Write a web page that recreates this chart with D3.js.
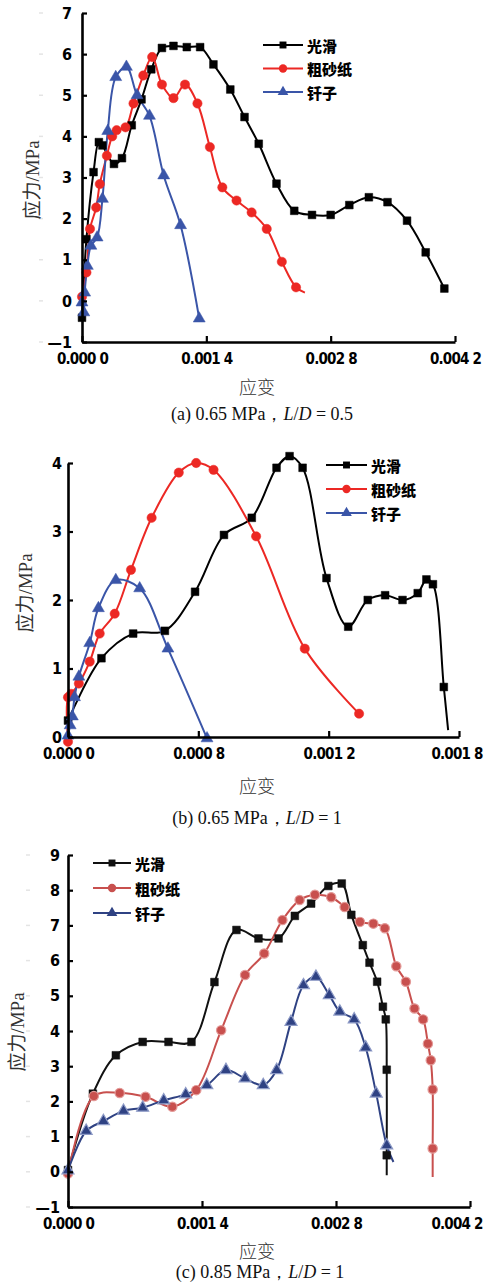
<!DOCTYPE html>
<html><head><meta charset="utf-8">
<script src="https://cdn.jsdelivr.net/npm/d3@7"></script>
<style>
html,body{margin:0;padding:0;background:#fff;}
svg{display:block;}
</style></head>
<body>
<svg id="c" width="485" height="1285"></svg>
<script>
// ---------- DATA ----------
const seriesNames = ["光滑", "粗砂纸", "钎子"];

// (a) 0.65 MPa, L/D = 0.5   [strain, stress MPa]
const aSmooth = [[0,-0.41],[0.00005,1.5],[0.00013,3.13],[0.00019,3.86],[0.00023,3.78],[0.00036,3.33],[0.00045,3.47],[0.00056,4.27],[0.00067,4.9],[0.00078,5.63],[0.0009,6.15],[0.00103,6.2],[0.00118,6.17],[0.00133,6.17],[0.00148,5.75],[0.00167,5.14],[0.00183,4.47],[0.00199,3.82],[0.00219,2.85],[0.00239,2.19],[0.00259,2.09],[0.0028,2.09],[0.00301,2.33],[0.00323,2.52],[0.00344,2.4],[0.00366,1.95],[0.00387,1.18],[0.00408,0.3]];
const aRough = [[0,0.1],[0.00005,0.69],[0.00009,1.75],[0.00016,2.27],[0.0002,2.84],[0.00028,3.53],[0.00034,4.0],[0.00039,4.15],[0.00049,4.22],[0.00058,4.8],[0.00069,5.48],[0.00079,5.93],[0.0009,5.26],[0.00103,4.93],[0.00116,5.26],[0.0013,4.8],[0.00144,3.74],[0.00158,2.76],[0.00174,2.44],[0.00191,2.15],[0.00208,1.75],[0.00225,0.95],[0.00241,0.33],[0.00251,0.2]];
const aPin = [[0,-0.04],[0.00002,-0.28],[0.00003,0.2],[0.00006,0.85],[0.0001,1.34],[0.00017,1.54],[0.00023,2.48],[0.00029,4.13],[0.00038,5.44],[0.0005,5.69],[0.00062,5.0],[0.00076,4.5],[0.00092,3.05],[0.00111,1.84],[0.00132,-0.43]];
const aYTicks = [-1,0,1,2,3,4,5,6,7];
const aYLabels = ["—1","0","1","2","3","4","5","6","7"];
const aXTicks = [0,0.0014,0.0028,0.0042];
const aXLabels = ["0.000 0","0.001 4","0.002 8","0.004 2"];

// (b) 0.65 MPa, L/D = 1
const bSmooth = [[0,0.24],[0.000154,1.15],[0.0003,1.51],[0.000446,1.55],[0.000585,2.12],[0.000718,2.95],[0.000846,3.2],[0.00096,3.93],[0.00102,4.1],[0.00108,3.93],[0.00119,2.32],[0.00129,1.61],[0.00138,2.0],[0.00146,2.07],[0.00154,2.0],[0.00161,2.1],[0.00165,2.3],[0.00168,2.23],[0.00173,0.73],[0.00175,0.1]];
const bRough = [[0,-0.07],[0,0.58],[0.000015,0.63],[0.00005,0.78],[0.0001,1.1],[0.000146,1.51],[0.000215,1.8],[0.00029,2.44],[0.000385,3.2],[0.00051,3.86],[0.00059,4.0],[0.00067,3.9],[0.000866,2.93],[0.00109,1.29],[0.00134,0.34]];
const bPin = [[0,0.02],[0.00001,0.17],[0.00002,0.3],[0.00003,0.58],[0.00005,0.88],[0.0001,1.37],[0.00014,1.88],[0.00022,2.29],[0.00033,2.17],[0.00046,1.29],[0.00064,-0.02]];
const bYTicks = [0,1,2,3,4];
const bYLabels = ["0","1","2","3","4"];
const bXTicks = [0,0.0006,0.0012,0.0018];
const bXLabels = ["0.000 0","0.000 8","0.001 2","0.001 8"];

// (c) 0.85 MPa, L/D = 1
const cSmooth = [[0,0.05],[0.00026,2.22],[0.0005,3.31],[0.00078,3.69],[0.00105,3.69],[0.00129,3.69],[0.00153,5.39],[0.00176,6.87],[0.00199,6.63],[0.0022,6.63],[0.00237,7.27],[0.00254,7.62],[0.00272,8.12],[0.00286,8.19],[0.00296,7.3],[0.00308,6.44],[0.00315,5.94],[0.00323,5.4],[0.00329,4.69],[0.00332,4.33],[0.00333,2.9],[0.00333,0.47],[0.00333,-0.1]];
const cRough = [[0,-0.05],[0.00027,2.15],[0.00054,2.24],[0.00081,2.13],[0.00109,1.85],[0.00134,2.32],[0.0016,4.02],[0.00185,5.59],[0.00205,6.2],[0.00224,7.15],[0.00242,7.72],[0.00258,7.87],[0.00275,7.8],[0.00289,7.52],[0.00305,7.1],[0.00319,7.05],[0.00331,6.92],[0.00343,5.84],[0.00353,5.4],[0.00362,4.64],[0.00371,4.33],[0.00376,3.64],[0.00379,3.17],[0.00381,2.34],[0.00381,0.66],[0.00381,-0.15]];
const cPin = [[0,0.04],[0.00019,1.16],[0.00037,1.44],[0.00058,1.73],[0.00078,1.82],[0.001,2.03],[0.00123,2.2],[0.00145,2.46],[0.00165,2.89],[0.00185,2.65],[0.00204,2.46],[0.00218,2.89],[0.00233,4.26],[0.00246,5.3],[0.00259,5.54],[0.00273,5.02],[0.00284,4.55],[0.00299,4.33],[0.00311,3.53],[0.00322,2.22],[0.00333,0.75],[0.0034,0.28]];
const cYTicks = [-1,0,1,2,3,4,5,6,7,8,9];
const cYLabels = ["—1","0","1","2","3","4","5","6","7","8","9"];
const cXTicks = [0,0.0014,0.0028,0.0042];
const cXLabels = ["0.000 0","0.001 4","0.002 8","0.004 2"];

const yTitle = "应力/MPa";
const xTitle = "应变";
const captions = [
  ["(a) 0.65 MPa，", "L", "/", "D", " = 0.5"],
  ["(b) 0.65 MPa，", "L", "/", "D", " = 1"],
  ["(c) 0.85 MPa，", "L", "/", "D", " = 1"]
];

// ---------- DRAW ----------
const svg = d3.select("#c");
const W = 485;
const symTypes = [d3.symbolSquare, d3.symbolCircle, d3.symbolTriangle];
const symSizes = [60, 68, 62];
const TICK_FONT = "'DejaVu Sans Condensed', 'DejaVu Sans', 'Liberation Sans', sans-serif";

function panel(cfg) {
  const g = svg.append("g");
  const x = d3.scaleLinear().domain(cfg.xDomain).range([cfg.left, cfg.right]);
  const y = d3.scaleLinear().domain(cfg.yDomain).range([cfg.bottom, cfg.top]);

  if (cfg.stubX) {
    g.selectAll(".stub").data(cfg.yTicks).join("line")
      .attr("x1", cfg.stubX).attr("x2", cfg.stubX + 4)
      .attr("y1", d => y(d)).attr("y2", d => y(d))
      .attr("stroke", "#e4e4e4").attr("stroke-width", 1.5);
  }

  const line = d3.line().x(d => x(d[0])).y(d => y(d[1])).curve(d3.curveCatmullRom.alpha(0.5));
  cfg.series.forEach((s, i) => {
    g.append("path").datum(s.data).attr("d", line)
      .attr("fill", "none").attr("stroke", s.color).attr("stroke-width", cfg.lw)
      .attr("stroke-linejoin", "round");
  });
  cfg.series.forEach((s, i) => {
    const pts = s.endMarker === false ? s.data.slice(0, -1) : s.data;
    g.selectAll(null).data(pts).join("path")
      .attr("transform", d => `translate(${x(d[0])},${y(d[1])})`)
      .attr("d", d3.symbol().type(symTypes[i]).size(symSizes[i]))
      .attr("fill", s.color)
      .attr("stroke", s.outline || s.color).attr("stroke-width", s.outline ? 1.2 : 0.5);
  });

  // axes
  const ya = d3.axisLeft(y).tickValues(cfg.yTicks).tickFormat((d, i) => cfg.yLabels[i])
    .tickSizeInner(-5).tickSizeOuter(0).tickPadding(cfg.yPad);
  const yg = g.append("g").attr("transform", `translate(${cfg.left},0)`).call(ya);
  const xa = d3.axisBottom(x).tickValues(cfg.xTicks).tickFormat((d, i) => cfg.xLabels[i])
    .tickSizeInner(-6).tickSizeOuter(0).tickPadding(cfg.xPad);
  const xg = g.append("g").attr("transform", `translate(0,${cfg.bottom})`).call(xa);
  [yg, xg].forEach(a => {
    a.select(".domain").attr("stroke", "#000").attr("stroke-width", 2.6);
    a.selectAll(".tick line").attr("stroke", "#000").attr("stroke-width", 2.2);
    a.selectAll(".tick text").attr("fill", "#000")
      .style("font-family", TICK_FONT).style("font-weight", "bold");
  });
  yg.selectAll(".tick text").style("font-size", "16px");
  xg.selectAll(".tick text").style("font-size", "15px").style("letter-spacing", "-0.8px");
  xg.selectAll(".tick text").each(function () {
    const b = this.getBBox();
    const ctm = this.parentNode.getCTM();
    const right = ctm.e + b.x + b.width;
    if (right > W - 2) d3.select(this).attr("dx", (W - 2 - right) + "px");
  });

  // legend
  cfg.series.forEach((s, i) => {
    const ly = cfg.legY + i * cfg.legDy;
    g.append("line").attr("x1", cfg.legX).attr("x2", cfg.legX + cfg.legW)
      .attr("y1", ly).attr("y2", ly).attr("stroke", s.color).attr("stroke-width", 2);
    g.append("path").attr("transform", `translate(${cfg.legX + cfg.legW / 2},${ly})`)
      .attr("d", d3.symbol().type(symTypes[i]).size(symSizes[i] * 0.8))
      .attr("fill", s.color);
    g.append("text").attr("x", cfg.legX + cfg.legW + 4).attr("y", ly)
      .attr("dominant-baseline", "central")
      .style("font-family", "'Noto Sans CJK SC', sans-serif").style("font-weight", "900")
      .style("font-size", "15px").attr("fill", "#000").text(seriesNames[i]);
  });

  // axis titles
  g.append("text").attr("transform", `translate(${cfg.yTitleX},${cfg.yTitleY}) rotate(-90)`)
    .attr("text-anchor", "middle").attr("dominant-baseline", "central")
    .style("font-family", "'Liberation Serif', 'Noto Sans CJK SC', serif").style("font-size", "19px")
    .attr("fill", "#333").text(yTitle);
  g.append("text").attr("x", cfg.xTitleX).attr("y", cfg.xTitleY)
    .attr("text-anchor", "middle").attr("dominant-baseline", "central")
    .style("font-family", "'Noto Sans CJK SC', serif").style("font-size", "18px").style("font-weight", "300")
    .attr("fill", "#333").text(xTitle);

  const cap = g.append("text").attr("x", cfg.capX).attr("y", cfg.capY)
    .attr("text-anchor", "middle").attr("dominant-baseline", "central")
    .style("font-family", "'Liberation Serif', 'Times New Roman', serif").style("font-size", "18px")
    .attr("fill", "#111");
  cfg.caption.forEach((t, k) => {
    cap.append("tspan").text(t).style("font-style", (k === 1 || k === 3) ? "italic" : "normal");
  });
}

const RED = "#ec2824", BLUE = "#3a55a8", BLACK = "#000";

panel({
  xDomain: [0, 0.0042], yDomain: [-1, 7], left: 82, right: 455, top: 13, bottom: 342,
  yTicks: aYTicks, yLabels: aYLabels, xTicks: aXTicks, xLabels: aXLabels, yPad: 10, xPad: 11,
  stubX: 39, lw: 2,
  series: [
    {data: aSmooth, color: BLACK},
    {data: aRough, color: RED, endMarker: false},
    {data: aPin, color: BLUE}
  ],
  legX: 263, legW: 40, legY: 45, legDy: 23.5,
  yTitleX: 32, yTitleY: 180, xTitleX: 257, xTitleY: 386, capX: 262, capY: 414, caption: captions[0]
});

panel({
  xDomain: [0, 0.0018], yDomain: [0, 4], left: 68, right: 459, top: 463, bottom: 737,
  yTicks: bYTicks, yLabels: bYLabels, xTicks: bXTicks, xLabels: bXLabels, yPad: 6, xPad: 11,
  lw: 2,
  series: [
    {data: bSmooth, color: BLACK, endMarker: false},
    {data: bRough, color: RED},
    {data: bPin, color: BLUE}
  ],
  legX: 326, legW: 41, legY: 465, legDy: 24,
  yTitleX: 25, yTitleY: 593, xTitleX: 257, xTitleY: 785, capX: 257, capY: 818, caption: captions[1]
});

panel({
  xDomain: [0, 0.0042], yDomain: [-1, 9], left: 68, right: 470, top: 855, bottom: 1207,
  yTicks: cYTicks, yLabels: cYLabels, xTicks: cXTicks, xLabels: cXLabels, yPad: 8, xPad: 11,
  stubX: 26, lw: 2,
  series: [
    {data: cSmooth, color: "#111", endMarker: false},
    {data: cRough, color: "#c8504e", outline: "#e39a98", endMarker: false},
    {data: cPin, color: "#2f4283", outline: "#8d9ac6", endMarker: false}
  ],
  legX: 93, legW: 38, legY: 863, legDy: 25,
  yTitleX: 17, yTitleY: 1032, xTitleX: 257, xTitleY: 1250, capX: 260, capY: 1272, caption: captions[2]
});
</script>
</body></html>
